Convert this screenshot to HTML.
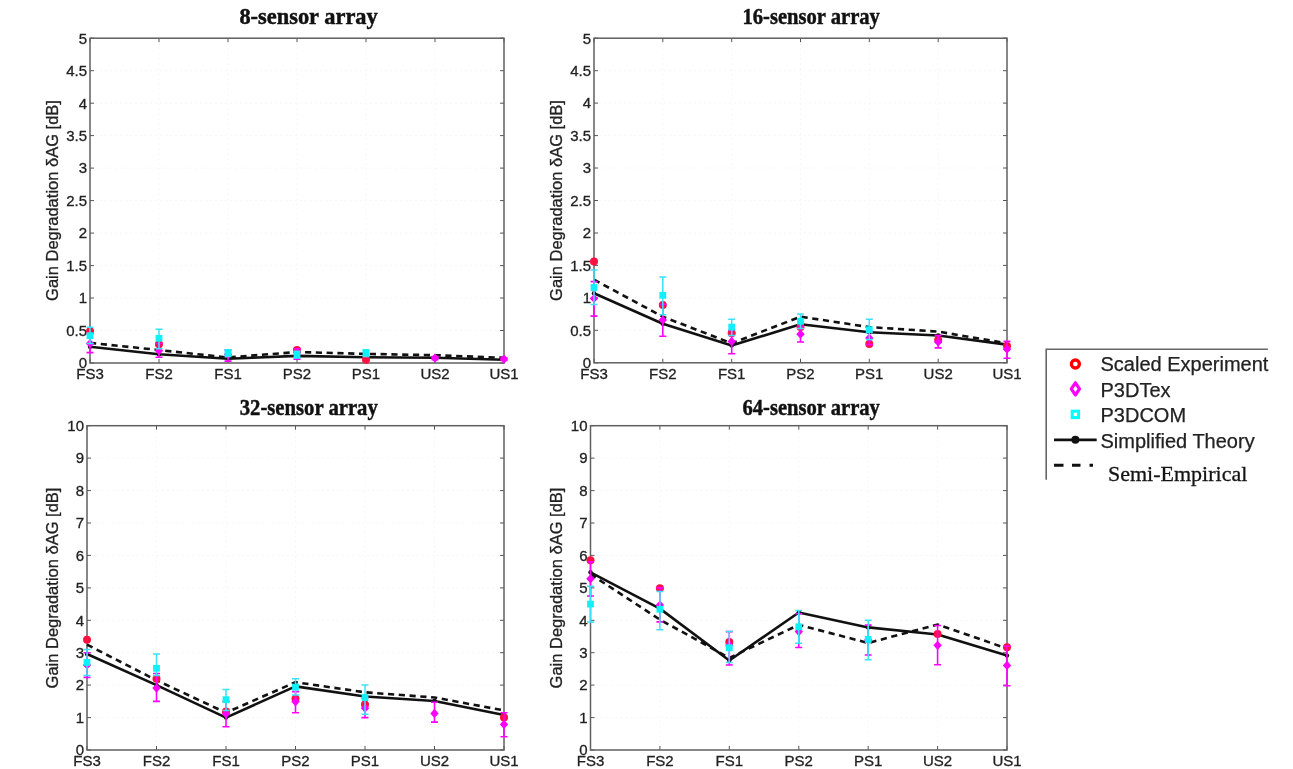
<!DOCTYPE html><html><head><meta charset="utf-8"><title>Gain degradation</title><style>html,body{margin:0;padding:0;background:#fff;width:1293px;height:769px;overflow:hidden}svg{display:block;filter:blur(0.35px)}</style></head><body>
<svg width="1293" height="769" viewBox="0 0 1293 769">
<rect width="1293" height="769" fill="#fff"/>
<path d="M90.0 330.5H504.0M90.0 298.0H504.0M90.0 265.6H504.0M90.0 233.1H504.0M90.0 200.6H504.0M90.0 168.1H504.0M90.0 135.6H504.0M90.0 103.2H504.0M90.0 70.7H504.0M159.0 38.2V363.0M228.0 38.2V363.0M297.0 38.2V363.0M366.0 38.2V363.0M435.0 38.2V363.0" stroke="#f7f7f7" stroke-width="1" stroke-dasharray="2 3" fill="none"/>
<path d="M90.0 363.0h4M504.0 363.0h-4M90.0 330.5h4M504.0 330.5h-4M90.0 298.0h4M504.0 298.0h-4M90.0 265.6h4M504.0 265.6h-4M90.0 233.1h4M504.0 233.1h-4M90.0 200.6h4M504.0 200.6h-4M90.0 168.1h4M504.0 168.1h-4M90.0 135.6h4M504.0 135.6h-4M90.0 103.2h4M504.0 103.2h-4M90.0 70.7h4M504.0 70.7h-4M90.0 38.2h4M504.0 38.2h-4M90.0 363.0v-4M90.0 38.2v4M159.0 363.0v-4M159.0 38.2v4M228.0 363.0v-4M228.0 38.2v4M297.0 363.0v-4M297.0 38.2v4M366.0 363.0v-4M366.0 38.2v4M435.0 363.0v-4M435.0 38.2v4M504.0 363.0v-4M504.0 38.2v4" stroke="#555" stroke-width="1" fill="none"/>
<rect x="90.0" y="38.2" width="414.0" height="324.8" fill="none" stroke="#606060" stroke-width="1.5"/>
<g font-family="Liberation Sans" font-size="15" fill="#222" stroke="#222" stroke-width="0.3">
<text x="87.0" y="368.3" text-anchor="end">0</text>
<text x="87.0" y="335.8" text-anchor="end">0.5</text>
<text x="87.0" y="303.3" text-anchor="end">1</text>
<text x="87.0" y="270.9" text-anchor="end">1.5</text>
<text x="87.0" y="238.4" text-anchor="end">2</text>
<text x="87.0" y="205.9" text-anchor="end">2.5</text>
<text x="87.0" y="173.4" text-anchor="end">3</text>
<text x="87.0" y="140.9" text-anchor="end">3.5</text>
<text x="87.0" y="108.5" text-anchor="end">4</text>
<text x="87.0" y="76.0" text-anchor="end">4.5</text>
<text x="87.0" y="43.5" text-anchor="end">5</text>
<text x="90.0" y="378.8" text-anchor="middle">FS3</text>
<text x="159.0" y="378.8" text-anchor="middle">FS2</text>
<text x="228.0" y="378.8" text-anchor="middle">FS1</text>
<text x="297.0" y="378.8" text-anchor="middle">PS2</text>
<text x="366.0" y="378.8" text-anchor="middle">PS1</text>
<text x="435.0" y="378.8" text-anchor="middle">US2</text>
<text x="504.0" y="378.8" text-anchor="middle">US1</text>
</g>
<text x="239.4" y="24.0" font-family="Liberation Serif" font-weight="bold" font-size="24" fill="#111" stroke="#111" stroke-width="0.5" textLength="138.4" lengthAdjust="spacingAndGlyphs">8-sensor array</text>
<text transform="translate(58.3 200.5) rotate(-90)" font-family="Liberation Sans" font-size="16.5" fill="#222" stroke="#222" stroke-width="0.3" text-anchor="middle">Gain Degradation δAG [dB]</text>
<polyline points="90.0,346.8 159.0,354.2 228.0,358.8 297.0,355.9 366.0,357.2 435.0,357.8 504.0,359.8" fill="none" stroke="#111" stroke-width="2.6" stroke-linejoin="round"/>
<polyline points="90.0,342.9 159.0,350.0 228.0,357.5 297.0,352.0 366.0,353.9 435.0,355.2 504.0,357.8" fill="none" stroke="#111" stroke-width="2.6" stroke-dasharray="6.2 4.6"/>
<circle cx="90.0" cy="346.8" r="2.2" fill="#111"/>
<circle cx="159.0" cy="354.2" r="2.2" fill="#111"/>
<circle cx="228.0" cy="358.8" r="2.2" fill="#111"/>
<circle cx="297.0" cy="355.9" r="2.2" fill="#111"/>
<circle cx="366.0" cy="357.2" r="2.2" fill="#111"/>
<circle cx="435.0" cy="357.8" r="2.2" fill="#111"/>
<circle cx="504.0" cy="359.8" r="2.2" fill="#111"/>
<circle cx="90.0" cy="331.2" r="4.0" fill="#ff1040"/>
<circle cx="159.0" cy="344.2" r="4.0" fill="#ff1040"/>
<circle cx="297.0" cy="350.0" r="4.0" fill="#ff1040"/>
<circle cx="366.0" cy="359.8" r="4.0" fill="#ff1040"/>
<path d="M90.0 352.6V333.8M86.5 352.6h7M86.5 333.8h7M159.0 357.2V343.5M155.5 357.2h7M155.5 343.5h7M228.0 361.1V350.0M224.5 361.1h7M224.5 350.0h7M297.0 359.1V348.7M293.5 359.1h7M293.5 348.7h7M435.0 359.8V356.5M431.5 359.8h7M431.5 356.5h7M504.0 360.4V357.8M500.5 360.4h7M500.5 357.8h7" stroke="#ff00ff" stroke-width="1.6" fill="none"/>
<path d="M90.0 338.9l4.2 4.6 -4.2 4.6 -4.2 -4.6z" fill="#ff00ff"/>
<path d="M159.0 346.1l4.2 4.6 -4.2 4.6 -4.2 -4.6z" fill="#ff00ff"/>
<path d="M228.0 350.0l4.2 4.6 -4.2 4.6 -4.2 -4.6z" fill="#ff00ff"/>
<path d="M297.0 348.0l4.2 4.6 -4.2 4.6 -4.2 -4.6z" fill="#ff00ff"/>
<path d="M435.0 353.5l4.2 4.6 -4.2 4.6 -4.2 -4.6z" fill="#ff00ff"/>
<path d="M504.0 354.5l4.2 4.6 -4.2 4.6 -4.2 -4.6z" fill="#ff00ff"/>
<path d="M90.0 343.5V327.3M86.5 343.5h7M86.5 327.3h7M159.0 348.7V329.2M155.5 348.7h7M155.5 329.2h7M228.0 356.5V350.0M224.5 356.5h7M224.5 350.0h7M297.0 357.8V351.3M293.5 357.8h7M293.5 351.3h7M366.0 356.5V350.0M362.5 356.5h7M362.5 350.0h7" stroke="#38e2fc" stroke-width="1.5" fill="none"/>
<rect x="86.6" y="332.3" width="6.8" height="6.8" fill="#10f0f8"/>
<rect x="155.6" y="334.9" width="6.8" height="6.8" fill="#10f0f8"/>
<rect x="224.6" y="349.2" width="6.8" height="6.8" fill="#10f0f8"/>
<rect x="293.6" y="351.8" width="6.8" height="6.8" fill="#10f0f8"/>
<rect x="362.6" y="349.2" width="6.8" height="6.8" fill="#10f0f8"/>
<path d="M594.0 330.3H1007.0M594.0 297.9H1007.0M594.0 265.4H1007.0M594.0 233.0H1007.0M594.0 200.5H1007.0M594.0 168.0H1007.0M594.0 135.6H1007.0M594.0 103.1H1007.0M594.0 70.7H1007.0M662.8 38.2V362.8M731.7 38.2V362.8M800.5 38.2V362.8M869.3 38.2V362.8M938.2 38.2V362.8" stroke="#f7f7f7" stroke-width="1" stroke-dasharray="2 3" fill="none"/>
<path d="M594.0 362.8h4M1007.0 362.8h-4M594.0 330.3h4M1007.0 330.3h-4M594.0 297.9h4M1007.0 297.9h-4M594.0 265.4h4M1007.0 265.4h-4M594.0 233.0h4M1007.0 233.0h-4M594.0 200.5h4M1007.0 200.5h-4M594.0 168.0h4M1007.0 168.0h-4M594.0 135.6h4M1007.0 135.6h-4M594.0 103.1h4M1007.0 103.1h-4M594.0 70.7h4M1007.0 70.7h-4M594.0 38.2h4M1007.0 38.2h-4M594.0 362.8v-4M594.0 38.2v4M662.8 362.8v-4M662.8 38.2v4M731.7 362.8v-4M731.7 38.2v4M800.5 362.8v-4M800.5 38.2v4M869.3 362.8v-4M869.3 38.2v4M938.2 362.8v-4M938.2 38.2v4M1007.0 362.8v-4M1007.0 38.2v4" stroke="#555" stroke-width="1" fill="none"/>
<rect x="594.0" y="38.2" width="413.0" height="324.6" fill="none" stroke="#606060" stroke-width="1.5"/>
<g font-family="Liberation Sans" font-size="15" fill="#222" stroke="#222" stroke-width="0.3">
<text x="591.0" y="368.1" text-anchor="end">0</text>
<text x="591.0" y="335.6" text-anchor="end">0.5</text>
<text x="591.0" y="303.2" text-anchor="end">1</text>
<text x="591.0" y="270.7" text-anchor="end">1.5</text>
<text x="591.0" y="238.3" text-anchor="end">2</text>
<text x="591.0" y="205.8" text-anchor="end">2.5</text>
<text x="591.0" y="173.3" text-anchor="end">3</text>
<text x="591.0" y="140.9" text-anchor="end">3.5</text>
<text x="591.0" y="108.4" text-anchor="end">4</text>
<text x="591.0" y="76.0" text-anchor="end">4.5</text>
<text x="591.0" y="43.5" text-anchor="end">5</text>
<text x="594.0" y="378.6" text-anchor="middle">FS3</text>
<text x="662.8" y="378.6" text-anchor="middle">FS2</text>
<text x="731.7" y="378.6" text-anchor="middle">FS1</text>
<text x="800.5" y="378.6" text-anchor="middle">PS2</text>
<text x="869.3" y="378.6" text-anchor="middle">PS1</text>
<text x="938.2" y="378.6" text-anchor="middle">US2</text>
<text x="1007.0" y="378.6" text-anchor="middle">US1</text>
</g>
<text x="742.5" y="24.0" font-family="Liberation Serif" font-weight="bold" font-size="24" fill="#111" stroke="#111" stroke-width="0.5" textLength="137.4" lengthAdjust="spacingAndGlyphs">16-sensor array</text>
<text transform="translate(561.8 200.5) rotate(-90)" font-family="Liberation Sans" font-size="16.5" fill="#222" stroke="#222" stroke-width="0.3" text-anchor="middle">Gain Degradation δAG [dB]</text>
<polyline points="594.0,293.3 662.8,323.8 731.7,345.6 800.5,324.2 869.3,332.3 938.2,335.5 1007.0,344.6" fill="none" stroke="#111" stroke-width="2.6" stroke-linejoin="round"/>
<polyline points="594.0,279.7 662.8,316.7 731.7,343.3 800.5,316.7 869.3,327.1 938.2,331.6 1007.0,343.3" fill="none" stroke="#111" stroke-width="2.6" stroke-dasharray="6.2 4.6"/>
<circle cx="594.0" cy="293.3" r="2.2" fill="#111"/>
<circle cx="662.8" cy="323.8" r="2.2" fill="#111"/>
<circle cx="731.7" cy="345.6" r="2.2" fill="#111"/>
<circle cx="800.5" cy="324.2" r="2.2" fill="#111"/>
<circle cx="869.3" cy="332.3" r="2.2" fill="#111"/>
<circle cx="938.2" cy="335.5" r="2.2" fill="#111"/>
<circle cx="1007.0" cy="344.6" r="2.2" fill="#111"/>
<circle cx="594.0" cy="261.5" r="4.0" fill="#ff1040"/>
<circle cx="662.8" cy="305.0" r="4.0" fill="#ff1040"/>
<circle cx="731.7" cy="333.3" r="4.0" fill="#ff1040"/>
<circle cx="800.5" cy="327.1" r="4.0" fill="#ff1040"/>
<circle cx="869.3" cy="344.0" r="4.0" fill="#ff1040"/>
<circle cx="938.2" cy="340.1" r="4.0" fill="#ff1040"/>
<circle cx="1007.0" cy="345.9" r="4.0" fill="#ff1040"/>
<path d="M594.0 316.1V281.6M590.5 316.1h7M590.5 281.6h7M662.8 336.2V304.4M659.3 336.2h7M659.3 304.4h7M731.7 353.7V330.3M728.2 353.7h7M728.2 330.3h7M800.5 342.0V326.4M797.0 342.0h7M797.0 326.4h7M869.3 344.6V331.6M865.8 344.6h7M865.8 331.6h7M938.2 347.9V335.5M934.7 347.9h7M934.7 335.5h7M1007.0 358.3V341.4M1003.5 358.3h7M1003.5 341.4h7" stroke="#ff00ff" stroke-width="1.6" fill="none"/>
<path d="M594.0 293.9l4.2 4.6 -4.2 4.6 -4.2 -4.6z" fill="#ff00ff"/>
<path d="M662.8 315.4l4.2 4.6 -4.2 4.6 -4.2 -4.6z" fill="#ff00ff"/>
<path d="M731.7 336.8l4.2 4.6 -4.2 4.6 -4.2 -4.6z" fill="#ff00ff"/>
<path d="M800.5 329.6l4.2 4.6 -4.2 4.6 -4.2 -4.6z" fill="#ff00ff"/>
<path d="M869.3 333.5l4.2 4.6 -4.2 4.6 -4.2 -4.6z" fill="#ff00ff"/>
<path d="M938.2 337.4l4.2 4.6 -4.2 4.6 -4.2 -4.6z" fill="#ff00ff"/>
<path d="M1007.0 344.6l4.2 4.6 -4.2 4.6 -4.2 -4.6z" fill="#ff00ff"/>
<path d="M594.0 304.4V270.0M590.5 304.4h7M590.5 270.0h7M662.8 314.8V277.1M659.3 314.8h7M659.3 277.1h7M731.7 335.5V319.3M728.2 335.5h7M728.2 319.3h7M800.5 328.4V314.1M797.0 328.4h7M797.0 314.1h7M869.3 339.4V319.3M865.8 339.4h7M865.8 319.3h7" stroke="#38e2fc" stroke-width="1.5" fill="none"/>
<rect x="590.6" y="284.1" width="6.8" height="6.8" fill="#10f0f8"/>
<rect x="659.4" y="291.9" width="6.8" height="6.8" fill="#10f0f8"/>
<rect x="728.3" y="323.7" width="6.8" height="6.8" fill="#10f0f8"/>
<rect x="797.1" y="317.9" width="6.8" height="6.8" fill="#10f0f8"/>
<rect x="865.9" y="326.3" width="6.8" height="6.8" fill="#10f0f8"/>
<path d="M87.0 717.6H504.0M87.0 685.1H504.0M87.0 652.7H504.0M87.0 620.3H504.0M87.0 587.9H504.0M87.0 555.4H504.0M87.0 523.0H504.0M87.0 490.6H504.0M87.0 458.1H504.0M156.5 425.7V750.0M226.0 425.7V750.0M295.5 425.7V750.0M365.0 425.7V750.0M434.5 425.7V750.0" stroke="#f7f7f7" stroke-width="1" stroke-dasharray="2 3" fill="none"/>
<path d="M87.0 750.0h4M504.0 750.0h-4M87.0 717.6h4M504.0 717.6h-4M87.0 685.1h4M504.0 685.1h-4M87.0 652.7h4M504.0 652.7h-4M87.0 620.3h4M504.0 620.3h-4M87.0 587.9h4M504.0 587.9h-4M87.0 555.4h4M504.0 555.4h-4M87.0 523.0h4M504.0 523.0h-4M87.0 490.6h4M504.0 490.6h-4M87.0 458.1h4M504.0 458.1h-4M87.0 425.7h4M504.0 425.7h-4M87.0 750.0v-4M87.0 425.7v4M156.5 750.0v-4M156.5 425.7v4M226.0 750.0v-4M226.0 425.7v4M295.5 750.0v-4M295.5 425.7v4M365.0 750.0v-4M365.0 425.7v4M434.5 750.0v-4M434.5 425.7v4M504.0 750.0v-4M504.0 425.7v4" stroke="#555" stroke-width="1" fill="none"/>
<rect x="87.0" y="425.7" width="417.0" height="324.3" fill="none" stroke="#606060" stroke-width="1.5"/>
<g font-family="Liberation Sans" font-size="15" fill="#222" stroke="#222" stroke-width="0.3">
<text x="84.0" y="755.3" text-anchor="end">0</text>
<text x="84.0" y="722.9" text-anchor="end">1</text>
<text x="84.0" y="690.4" text-anchor="end">2</text>
<text x="84.0" y="658.0" text-anchor="end">3</text>
<text x="84.0" y="625.6" text-anchor="end">4</text>
<text x="84.0" y="593.1" text-anchor="end">5</text>
<text x="84.0" y="560.7" text-anchor="end">6</text>
<text x="84.0" y="528.3" text-anchor="end">7</text>
<text x="84.0" y="495.9" text-anchor="end">8</text>
<text x="84.0" y="463.4" text-anchor="end">9</text>
<text x="84.0" y="431.0" text-anchor="end">10</text>
<text x="87.0" y="765.8" text-anchor="middle">FS3</text>
<text x="156.5" y="765.8" text-anchor="middle">FS2</text>
<text x="226.0" y="765.8" text-anchor="middle">FS1</text>
<text x="295.5" y="765.8" text-anchor="middle">PS2</text>
<text x="365.0" y="765.8" text-anchor="middle">PS1</text>
<text x="434.5" y="765.8" text-anchor="middle">US2</text>
<text x="504.0" y="765.8" text-anchor="middle">US1</text>
</g>
<text x="239.7" y="415.0" font-family="Liberation Serif" font-weight="bold" font-size="24" fill="#111" stroke="#111" stroke-width="0.5" textLength="138.1" lengthAdjust="spacingAndGlyphs">32-sensor array</text>
<text transform="translate(58.3 588.0) rotate(-90)" font-family="Liberation Sans" font-size="16.5" fill="#222" stroke="#222" stroke-width="0.3" text-anchor="middle">Gain Degradation δAG [dB]</text>
<polyline points="87.0,654.0 156.5,685.1 226.0,717.6 295.5,686.4 365.0,696.5 434.5,701.0 504.0,715.0" fill="none" stroke="#111" stroke-width="2.6" stroke-linejoin="round"/>
<polyline points="87.0,644.6 156.5,680.3 226.0,712.7 295.5,682.2 365.0,692.3 434.5,697.5 504.0,710.4" fill="none" stroke="#111" stroke-width="2.6" stroke-dasharray="6.2 4.6"/>
<circle cx="87.0" cy="654.0" r="2.2" fill="#111"/>
<circle cx="156.5" cy="685.1" r="2.2" fill="#111"/>
<circle cx="226.0" cy="717.6" r="2.2" fill="#111"/>
<circle cx="295.5" cy="686.4" r="2.2" fill="#111"/>
<circle cx="365.0" cy="696.5" r="2.2" fill="#111"/>
<circle cx="434.5" cy="701.0" r="2.2" fill="#111"/>
<circle cx="504.0" cy="715.0" r="2.2" fill="#111"/>
<circle cx="87.0" cy="639.7" r="4.0" fill="#ff1040"/>
<circle cx="156.5" cy="678.7" r="4.0" fill="#ff1040"/>
<circle cx="226.0" cy="711.4" r="4.0" fill="#ff1040"/>
<circle cx="295.5" cy="698.8" r="4.0" fill="#ff1040"/>
<circle cx="365.0" cy="704.6" r="4.0" fill="#ff1040"/>
<circle cx="504.0" cy="717.6" r="4.0" fill="#ff1040"/>
<path d="M87.0 677.4V652.7M83.5 677.4h7M83.5 652.7h7M156.5 701.4V673.5M153.0 701.4h7M153.0 673.5h7M226.0 726.7V701.4M222.5 726.7h7M222.5 701.4h7M295.5 712.7V691.6M292.0 712.7h7M292.0 691.6h7M365.0 717.6V698.1M361.5 717.6h7M361.5 698.1h7M434.5 722.1V702.3M431.0 722.1h7M431.0 702.3h7M504.0 736.7V712.7M500.5 736.7h7M500.5 712.7h7" stroke="#ff00ff" stroke-width="1.6" fill="none"/>
<path d="M87.0 660.4l4.2 4.6 -4.2 4.6 -4.2 -4.6z" fill="#ff00ff"/>
<path d="M156.5 683.5l4.2 4.6 -4.2 4.6 -4.2 -4.6z" fill="#ff00ff"/>
<path d="M226.0 709.4l4.2 4.6 -4.2 4.6 -4.2 -4.6z" fill="#ff00ff"/>
<path d="M295.5 697.1l4.2 4.6 -4.2 4.6 -4.2 -4.6z" fill="#ff00ff"/>
<path d="M365.0 703.6l4.2 4.6 -4.2 4.6 -4.2 -4.6z" fill="#ff00ff"/>
<path d="M434.5 708.8l4.2 4.6 -4.2 4.6 -4.2 -4.6z" fill="#ff00ff"/>
<path d="M504.0 719.8l4.2 4.6 -4.2 4.6 -4.2 -4.6z" fill="#ff00ff"/>
<path d="M87.0 675.4V649.5M83.5 675.4h7M83.5 649.5h7M156.5 675.4V654.0M153.0 675.4h7M153.0 654.0h7M226.0 710.4V689.4M222.5 710.4h7M222.5 689.4h7M295.5 694.9V678.7M292.0 694.9h7M292.0 678.7h7M365.0 714.3V685.1M361.5 714.3h7M361.5 685.1h7" stroke="#38e2fc" stroke-width="1.5" fill="none"/>
<rect x="83.6" y="659.0" width="6.8" height="6.8" fill="#10f0f8"/>
<rect x="153.1" y="664.9" width="6.8" height="6.8" fill="#10f0f8"/>
<rect x="222.6" y="696.3" width="6.8" height="6.8" fill="#10f0f8"/>
<rect x="292.1" y="683.7" width="6.8" height="6.8" fill="#10f0f8"/>
<rect x="361.6" y="694.1" width="6.8" height="6.8" fill="#10f0f8"/>
<path d="M590.5 717.6H1007.0M590.5 685.1H1007.0M590.5 652.7H1007.0M590.5 620.3H1007.0M590.5 587.9H1007.0M590.5 555.4H1007.0M590.5 523.0H1007.0M590.5 490.6H1007.0M590.5 458.1H1007.0M659.9 425.7V750.0M729.3 425.7V750.0M798.8 425.7V750.0M868.2 425.7V750.0M937.6 425.7V750.0" stroke="#f7f7f7" stroke-width="1" stroke-dasharray="2 3" fill="none"/>
<path d="M590.5 750.0h4M1007.0 750.0h-4M590.5 717.6h4M1007.0 717.6h-4M590.5 685.1h4M1007.0 685.1h-4M590.5 652.7h4M1007.0 652.7h-4M590.5 620.3h4M1007.0 620.3h-4M590.5 587.9h4M1007.0 587.9h-4M590.5 555.4h4M1007.0 555.4h-4M590.5 523.0h4M1007.0 523.0h-4M590.5 490.6h4M1007.0 490.6h-4M590.5 458.1h4M1007.0 458.1h-4M590.5 425.7h4M1007.0 425.7h-4M590.5 750.0v-4M590.5 425.7v4M659.9 750.0v-4M659.9 425.7v4M729.3 750.0v-4M729.3 425.7v4M798.8 750.0v-4M798.8 425.7v4M868.2 750.0v-4M868.2 425.7v4M937.6 750.0v-4M937.6 425.7v4M1007.0 750.0v-4M1007.0 425.7v4" stroke="#555" stroke-width="1" fill="none"/>
<rect x="590.5" y="425.7" width="416.5" height="324.3" fill="none" stroke="#606060" stroke-width="1.5"/>
<g font-family="Liberation Sans" font-size="15" fill="#222" stroke="#222" stroke-width="0.3">
<text x="587.5" y="755.3" text-anchor="end">0</text>
<text x="587.5" y="722.9" text-anchor="end">1</text>
<text x="587.5" y="690.4" text-anchor="end">2</text>
<text x="587.5" y="658.0" text-anchor="end">3</text>
<text x="587.5" y="625.6" text-anchor="end">4</text>
<text x="587.5" y="593.1" text-anchor="end">5</text>
<text x="587.5" y="560.7" text-anchor="end">6</text>
<text x="587.5" y="528.3" text-anchor="end">7</text>
<text x="587.5" y="495.9" text-anchor="end">8</text>
<text x="587.5" y="463.4" text-anchor="end">9</text>
<text x="587.5" y="431.0" text-anchor="end">10</text>
<text x="590.5" y="765.8" text-anchor="middle">FS3</text>
<text x="659.9" y="765.8" text-anchor="middle">FS2</text>
<text x="729.3" y="765.8" text-anchor="middle">FS1</text>
<text x="798.8" y="765.8" text-anchor="middle">PS2</text>
<text x="868.2" y="765.8" text-anchor="middle">PS1</text>
<text x="937.6" y="765.8" text-anchor="middle">US2</text>
<text x="1007.0" y="765.8" text-anchor="middle">US1</text>
</g>
<text x="742.5" y="415.0" font-family="Liberation Serif" font-weight="bold" font-size="24" fill="#111" stroke="#111" stroke-width="0.5" textLength="137.4" lengthAdjust="spacingAndGlyphs">64-sensor array</text>
<text transform="translate(561.9 588.0) rotate(-90)" font-family="Liberation Sans" font-size="16.5" fill="#222" stroke="#222" stroke-width="0.3" text-anchor="middle">Gain Degradation δAG [dB]</text>
<polyline points="590.5,572.3 659.9,608.6 729.3,660.5 798.8,612.5 868.2,627.4 937.6,634.5 1007.0,655.6" fill="none" stroke="#111" stroke-width="2.6" stroke-linejoin="round"/>
<polyline points="590.5,574.2 659.9,619.6 729.3,657.9 798.8,624.8 868.2,643.0 937.6,624.5 1007.0,648.5" fill="none" stroke="#111" stroke-width="2.6" stroke-dasharray="6.2 4.6"/>
<circle cx="590.5" cy="572.3" r="2.2" fill="#111"/>
<circle cx="659.9" cy="608.6" r="2.2" fill="#111"/>
<circle cx="729.3" cy="660.5" r="2.2" fill="#111"/>
<circle cx="798.8" cy="612.5" r="2.2" fill="#111"/>
<circle cx="868.2" cy="627.4" r="2.2" fill="#111"/>
<circle cx="937.6" cy="634.5" r="2.2" fill="#111"/>
<circle cx="1007.0" cy="655.6" r="2.2" fill="#111"/>
<circle cx="590.5" cy="560.3" r="4.0" fill="#ff1040"/>
<circle cx="659.9" cy="588.2" r="4.0" fill="#ff1040"/>
<circle cx="729.3" cy="642.0" r="4.0" fill="#ff1040"/>
<circle cx="937.6" cy="633.9" r="4.0" fill="#ff1040"/>
<circle cx="1007.0" cy="647.2" r="4.0" fill="#ff1040"/>
<path d="M590.5 596.0V561.9M587.0 596.0h7M587.0 561.9h7M659.9 621.9V587.9M656.4 621.9h7M656.4 587.9h7M729.3 665.0V631.6M725.8 665.0h7M725.8 631.6h7M798.8 647.5V613.8M795.2 647.5h7M795.2 613.8h7M868.2 655.0V625.1M864.7 655.0h7M864.7 625.1h7M937.6 664.7V625.5M934.1 664.7h7M934.1 625.5h7M1007.0 685.8V646.2M1003.5 685.8h7M1003.5 646.2h7" stroke="#ff00ff" stroke-width="1.6" fill="none"/>
<path d="M590.5 574.2l4.2 4.6 -4.2 4.6 -4.2 -4.6z" fill="#ff00ff"/>
<path d="M659.9 600.4l4.2 4.6 -4.2 4.6 -4.2 -4.6z" fill="#ff00ff"/>
<path d="M729.3 640.7l4.2 4.6 -4.2 4.6 -4.2 -4.6z" fill="#ff00ff"/>
<path d="M798.8 627.0l4.2 4.6 -4.2 4.6 -4.2 -4.6z" fill="#ff00ff"/>
<path d="M868.2 635.5l4.2 4.6 -4.2 4.6 -4.2 -4.6z" fill="#ff00ff"/>
<path d="M937.6 640.7l4.2 4.6 -4.2 4.6 -4.2 -4.6z" fill="#ff00ff"/>
<path d="M1007.0 660.8l4.2 4.6 -4.2 4.6 -4.2 -4.6z" fill="#ff00ff"/>
<path d="M590.5 621.9V586.2M587.0 621.9h7M587.0 586.2h7M659.9 629.7V591.4M656.4 629.7h7M656.4 591.4h7M729.3 662.4V631.6M725.8 662.4h7M725.8 631.6h7M798.8 643.3V610.6M795.2 643.3h7M795.2 610.6h7M868.2 659.8V620.3M864.7 659.8h7M864.7 620.3h7" stroke="#38e2fc" stroke-width="1.5" fill="none"/>
<rect x="587.1" y="600.7" width="6.8" height="6.8" fill="#10f0f8"/>
<rect x="656.5" y="605.9" width="6.8" height="6.8" fill="#10f0f8"/>
<rect x="725.9" y="644.4" width="6.8" height="6.8" fill="#10f0f8"/>
<rect x="795.4" y="623.4" width="6.8" height="6.8" fill="#10f0f8"/>
<rect x="864.8" y="636.0" width="6.8" height="6.8" fill="#10f0f8"/>
<path d="M1046.2 479.8V349.2H1267.9" fill="none" stroke="#666" stroke-width="1.6"/>
<circle cx="1075.4" cy="364" r="4.0" fill="none" stroke="#ff0000" stroke-width="3.3"/>
<path d="M1075.4 382.8l4.1 6.1-4.1 6.1-4.1-6.1z" fill="none" stroke="#ff00ff" stroke-width="3.2" stroke-linejoin="round"/>
<rect x="1072.2" y="411.2" width="6.4" height="6.4" fill="none" stroke="#00ffff" stroke-width="3"/>
<path d="M1054 439.8H1096.7" stroke="#111" stroke-width="2.8"/><circle cx="1075.4" cy="439.8" r="4" fill="#111"/>
<path d="M1054 465.3h9.5M1072 465.3h8.5M1089.5 465.3h3.5" stroke="#111" stroke-width="3"/>
<g font-family="Liberation Sans" font-size="20" fill="#222" stroke="#222" stroke-width="0.25">
<text x="1100.5" y="371.2">Scaled Experiment</text>
<text x="1100.5" y="396.7">P3DTex</text>
<text x="1100.5" y="422.2">P3DCOM</text>
<text x="1100.5" y="447.7">Simplified Theory</text>
</g>
<text x="1108" y="480.9" font-family="Liberation Serif" font-size="22" fill="#141414" stroke="#141414" stroke-width="0.3">Semi-Empirical</text>
</svg></body></html>
